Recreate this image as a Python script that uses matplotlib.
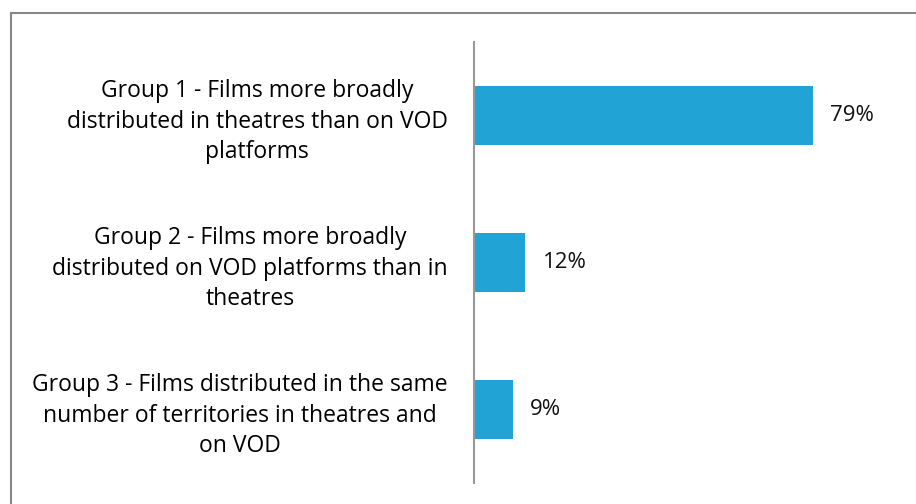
import matplotlib.pyplot as plt
from matplotlib.patches import Rectangle

labels = ['Group 1 - Films more broadly\ndistributed in theatres than on VOD\nplatforms',
          'Group 2 - Films more broadly\ndistributed on VOD platforms than in\ntheatres',
          'Group 3 - Films distributed in the same\nnumber of territories in theatres and\non VOD']
shares = [0.79, 0.12, 0.09]

plt.rcParams['font.family'] = ['Open Sans', 'DejaVu Sans']

W, H = 916, 504
fig = plt.figure(figsize=(W / 100, H / 100), dpi=100)
ax = fig.add_axes([474 / W, 1 - 483 / H, 429 / W, 441 / H])

pos = list(range(len(shares)))
ax.barh(pos, shares, height=0.395, color='#22a3d6')
ax.set_ylim(2.5, -0.5)
ax.set_xlim(0, 1)

for p, v in zip(pos, shares):
    ax.text(v + 0.04, p, f'{v:.0%}', va='center', ha='left', fontsize=16, color='#111111')

ax.set_yticks(pos)
ax.set_yticklabels(labels, fontsize=16.5, multialignment='center', linespacing=1.36)
ax.tick_params(axis='y', length=0, pad=19)
ax.set_xticks([])
for s in ['top', 'right', 'bottom']:
    ax.spines[s].set_visible(False)
ax.spines['left'].set_color('#999999')
ax.spines['left'].set_linewidth(1.5)

# chart area border (only top and left visible in the crop)
fig.patches.append(Rectangle((10.5 / W, -0.1), 1.2, 1.1 - 13 / H, transform=fig.transFigure,
                             fill=False, edgecolor='#888888', linewidth=1.5))

fig.savefig('out.png', dpi=100)
